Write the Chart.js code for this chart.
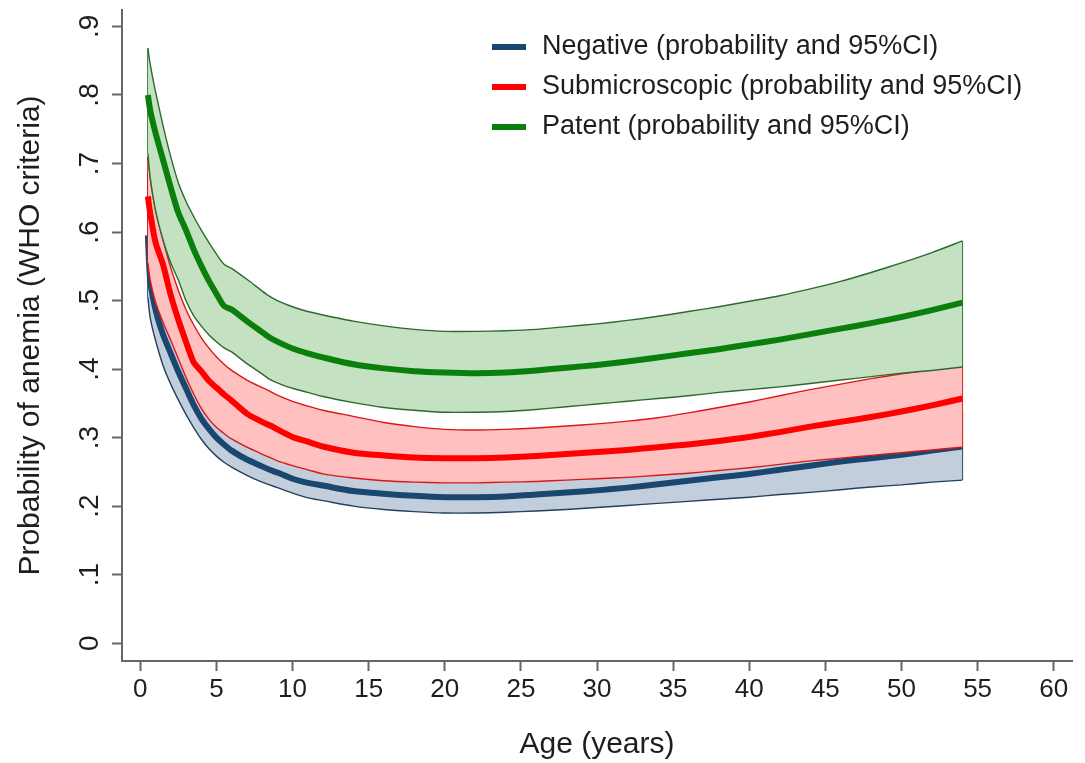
<!DOCTYPE html>
<html>
<head>
<meta charset="utf-8">
<title>Probability of anemia by age</title>
<script src="https://cdn.jsdelivr.net/npm/chart.js@4.4.1/dist/chart.umd.min.js"></script>
<style>
  html, body { margin: 0; padding: 0; background: #fff; }
  #wrap { width: 1085px; height: 763px; }
</style>
</head>
<body>
<div id="wrap"><canvas id="anemiaChart" width="1085" height="763"></canvas></div>
<script>
// age grid (years) shared by all curves
const ages = [0.5, 0.65, 1, 1.5, 2, 2.5, 3, 3.5, 4, 4.5, 5, 5.5, 6, 7, 8, 8.5, 9, 10, 11, 12, 14, 16, 18,
  20, 22, 24, 26, 28, 30, 32, 34, 36, 38, 40, 42, 44, 46, 48, 50, 52, 54];

// Negative
const negMean = [0.595, 0.530, 0.487, 0.450, 0.423, 0.396, 0.372, 0.348, 0.328, 0.313, 0.300, 0.290, 0.281, 0.268, 0.258, 0.253, 0.249, 0.240, 0.234, 0.230, 0.222, 0.218, 0.215,
  0.213, 0.213, 0.214, 0.217, 0.220, 0.223, 0.227, 0.232, 0.237, 0.242, 0.247, 0.253, 0.259, 0.265, 0.270, 0.275, 0.281, 0.287];
const negUpper = [0.685, 0.590, 0.535, 0.495, 0.468, 0.437, 0.410, 0.381, 0.358, 0.342, 0.327, 0.316, 0.305, 0.291, 0.281, 0.275, 0.271, 0.261, 0.256, 0.252, 0.244, 0.241, 0.238,
  0.238, 0.238, 0.239, 0.243, 0.247, 0.250, 0.255, 0.262, 0.269, 0.276, 0.283, 0.291, 0.300, 0.308, 0.314, 0.321, 0.329, 0.338];
const negLower = [0.505, 0.475, 0.442, 0.405, 0.378, 0.355, 0.334, 0.315, 0.298, 0.284, 0.273, 0.264, 0.257, 0.245, 0.235, 0.231, 0.227, 0.219, 0.212, 0.208, 0.200, 0.195, 0.192,
  0.190, 0.190, 0.191, 0.193, 0.195, 0.198, 0.201, 0.204, 0.207, 0.210, 0.213, 0.217, 0.220, 0.224, 0.228, 0.231, 0.235, 0.238];

// Submicroscopic
const subMean = [0.652, 0.628, 0.585, 0.552, 0.508, 0.472, 0.440, 0.410, 0.397, 0.383, 0.373, 0.363, 0.354, 0.335, 0.323, 0.318, 0.312, 0.301, 0.294, 0.287, 0.278, 0.274, 0.271,
  0.270, 0.270, 0.271, 0.273, 0.276, 0.279, 0.282, 0.286, 0.290, 0.295, 0.301, 0.308, 0.316, 0.323, 0.330, 0.338, 0.347, 0.357];
const subUpper = [0.710, 0.680, 0.632, 0.588, 0.548, 0.515, 0.487, 0.465, 0.446, 0.431, 0.418, 0.407, 0.398, 0.384, 0.373, 0.368, 0.362, 0.353, 0.346, 0.340, 0.331, 0.322, 0.316,
  0.312, 0.311, 0.312, 0.314, 0.317, 0.320, 0.324, 0.329, 0.336, 0.344, 0.352, 0.361, 0.370, 0.378, 0.386, 0.393, 0.399, 0.405];
const subLower = [0.555, 0.530, 0.498, 0.468, 0.442, 0.415, 0.388, 0.364, 0.343, 0.327, 0.315, 0.306, 0.298, 0.286, 0.276, 0.271, 0.266, 0.259, 0.253, 0.247, 0.241, 0.237, 0.235,
  0.234, 0.234, 0.235, 0.236, 0.238, 0.240, 0.242, 0.245, 0.248, 0.252, 0.256, 0.261, 0.266, 0.270, 0.274, 0.278, 0.282, 0.286];

// Patent
const patMean = [0.800, 0.778, 0.745, 0.705, 0.665, 0.628, 0.603, 0.575, 0.551, 0.529, 0.510, 0.492, 0.487, 0.470, 0.454, 0.446, 0.440, 0.430, 0.423, 0.417, 0.407, 0.401, 0.397,
  0.395, 0.394, 0.395, 0.398, 0.402, 0.406, 0.411, 0.417, 0.423, 0.429, 0.436, 0.443, 0.451, 0.459, 0.467, 0.476, 0.486, 0.497];
const patUpper = [0.868, 0.845, 0.805, 0.755, 0.710, 0.672, 0.645, 0.623, 0.603, 0.585, 0.568, 0.553, 0.547, 0.531, 0.514, 0.506, 0.500, 0.491, 0.484, 0.479, 0.470, 0.463, 0.458,
  0.455, 0.455, 0.456, 0.458, 0.462, 0.466, 0.471, 0.477, 0.484, 0.491, 0.499, 0.507, 0.517, 0.528, 0.541, 0.555, 0.570, 0.587];
const patLower = [0.715, 0.680, 0.632, 0.588, 0.555, 0.530, 0.500, 0.478, 0.463, 0.450, 0.440, 0.431, 0.425, 0.408, 0.393, 0.385, 0.380, 0.372, 0.366, 0.360, 0.351, 0.344, 0.340,
  0.337, 0.337, 0.338, 0.341, 0.345, 0.349, 0.353, 0.357, 0.361, 0.366, 0.370, 0.374, 0.379, 0.384, 0.389, 0.394, 0.398, 0.403];

const seriesNames = [
  "Negative (probability and 95%CI)",
  "Submicroscopic (probability and 95%CI)",
  "Patent (probability and 95%CI)"
];

const xTicks = [0, 5, 10, 15, 20, 25, 30, 35, 40, 45, 50, 55, 60];
const yTicks = [0, 0.1, 0.2, 0.3, 0.4, 0.5, 0.6, 0.7, 0.8, 0.9];

const FONT = "'Liberation Sans', Arial, Helvetica, sans-serif";
const TXT = "#1e1e1e";
const AXIS = "#666666";

const pts = ys => ages.map((a, i) => ({ x: a, y: ys[i] }));

// closing edges of a CI band (left and right ends)
function bandEnds(upper, lower) {
  const n = ages.length - 1;
  return [
    { x: ages[0], y: lower[0] }, { x: ages[0], y: upper[0] },
    { x: ages[n], y: null },
    { x: ages[n], y: upper[n] }, { x: ages[n], y: lower[n] }
  ];
}

// one series = mean line + band (lower, upper filled to lower) + band ends
function seriesSets(name, mean, upper, lower, lineCol, fillCol, edgeCol) {
  return [
    { label: name, data: pts(mean), borderColor: lineCol, borderWidth: 6, tension: 0.25, fill: false, legendColor: lineCol },
    { label: name + " lower", data: pts(lower), borderColor: edgeCol, borderWidth: 1.4, tension: 0.25, fill: false },
    { label: name + " upper", data: pts(upper), borderColor: edgeCol, borderWidth: 1.4, tension: 0.25, fill: "-1", backgroundColor: fillCol },
    { label: name + " ends", data: bandEnds(upper, lower), borderColor: edgeCol, borderWidth: 1.4, tension: 0, fill: false, spanGaps: false }
  ];
}

// first index is drawn on top: patent, then submicroscopic, then negative
const datasets = [
  ...seriesSets(seriesNames[2], patMean, patUpper, patLower, "#0b7f0b", "#c4e2c2", "#2d6a2d"),
  ...seriesSets(seriesNames[1], subMean, subUpper, subLower, "#ff0000", "#ffc0c0", "#d81818"),
  ...seriesSets(seriesNames[0], negMean, negUpper, negLower, "#1a476f", "#c3cedc", "#24405c")
];

// legend drawn inside the plot, Stata style
const insideLegend = {
  id: "insideLegend",
  afterDraw(chart) {
    const ctx = chart.ctx;
    const items = seriesNames.map(n => chart.data.datasets.find(d => d.label === n));
    ctx.save();
    ctx.font = "27px " + FONT;
    ctx.textBaseline = "middle";
    ctx.textAlign = "left";
    items.forEach((d, i) => {
      const y = 47 + i * 40;
      ctx.fillStyle = d.legendColor;
      ctx.fillRect(492, y - 3, 34, 6);
      ctx.fillStyle = TXT;
      ctx.fillText(d.label, 542, y);
    });
    ctx.restore();
  }
};

const ctx = document.getElementById("anemiaChart").getContext("2d");
new Chart(ctx, {
  type: "line",
  data: { datasets },
  plugins: [insideLegend],
  options: {
    responsive: false,
    animation: false,
    events: [],
    layout: { padding: { top: 10, right: 13, left: 0, bottom: 0 } },
    elements: { point: { radius: 0 } },
    plugins: {
      legend: { display: false },
      tooltip: { enabled: false },
      filler: { propagate: false }
    },
    scales: {
      x: {
        type: "linear",
        min: -1.2,
        max: 61.2,
        afterBuildTicks: s => { s.ticks = xTicks.map(v => ({ value: v })); },
        afterFit: s => { s.height = 102; s.paddingLeft = 0; s.paddingRight = 0; },
        border: { display: true, color: AXIS, width: 2 },
        grid: { display: true, drawOnChartArea: false, drawTicks: true, tickLength: 10, tickColor: AXIS, tickWidth: 2 },
        ticks: {
          color: TXT, font: { family: FONT, size: 26 }, padding: 3,
          maxRotation: 0, minRotation: 0, autoSkip: false,
          callback: v => String(v)
        },
        title: {
          display: true, text: "Age (years)", color: TXT,
          font: { family: FONT, size: 30 }, padding: { top: 0, bottom: 0 }
        }
      },
      y: {
        type: "linear",
        min: -0.026,
        max: 0.924,
        afterBuildTicks: s => { s.ticks = yTicks.map(v => ({ value: v })); },
        afterFit: s => { s.width = 122; s.paddingTop = 0; s.paddingBottom = 0; },
        border: { display: true, color: AXIS, width: 2 },
        grid: { display: true, drawOnChartArea: false, drawTicks: true, tickLength: 10, tickColor: AXIS, tickWidth: 2 },
        ticks: {
          color: TXT, font: { family: FONT, size: 28 }, padding: 10,
          minRotation: 90, maxRotation: 90, crossAlign: "center", autoSkip: false,
          callback: v => v === 0 ? "0" : v.toFixed(1).replace(/^0/, "")
        },
        title: {
          display: true, text: "Probability of anemia (WHO criteria)", color: TXT,
          font: { family: FONT, size: 30 }, padding: { top: 13, bottom: 0 }
        }
      }
    }
  }
});
</script>
</body>
</html>
